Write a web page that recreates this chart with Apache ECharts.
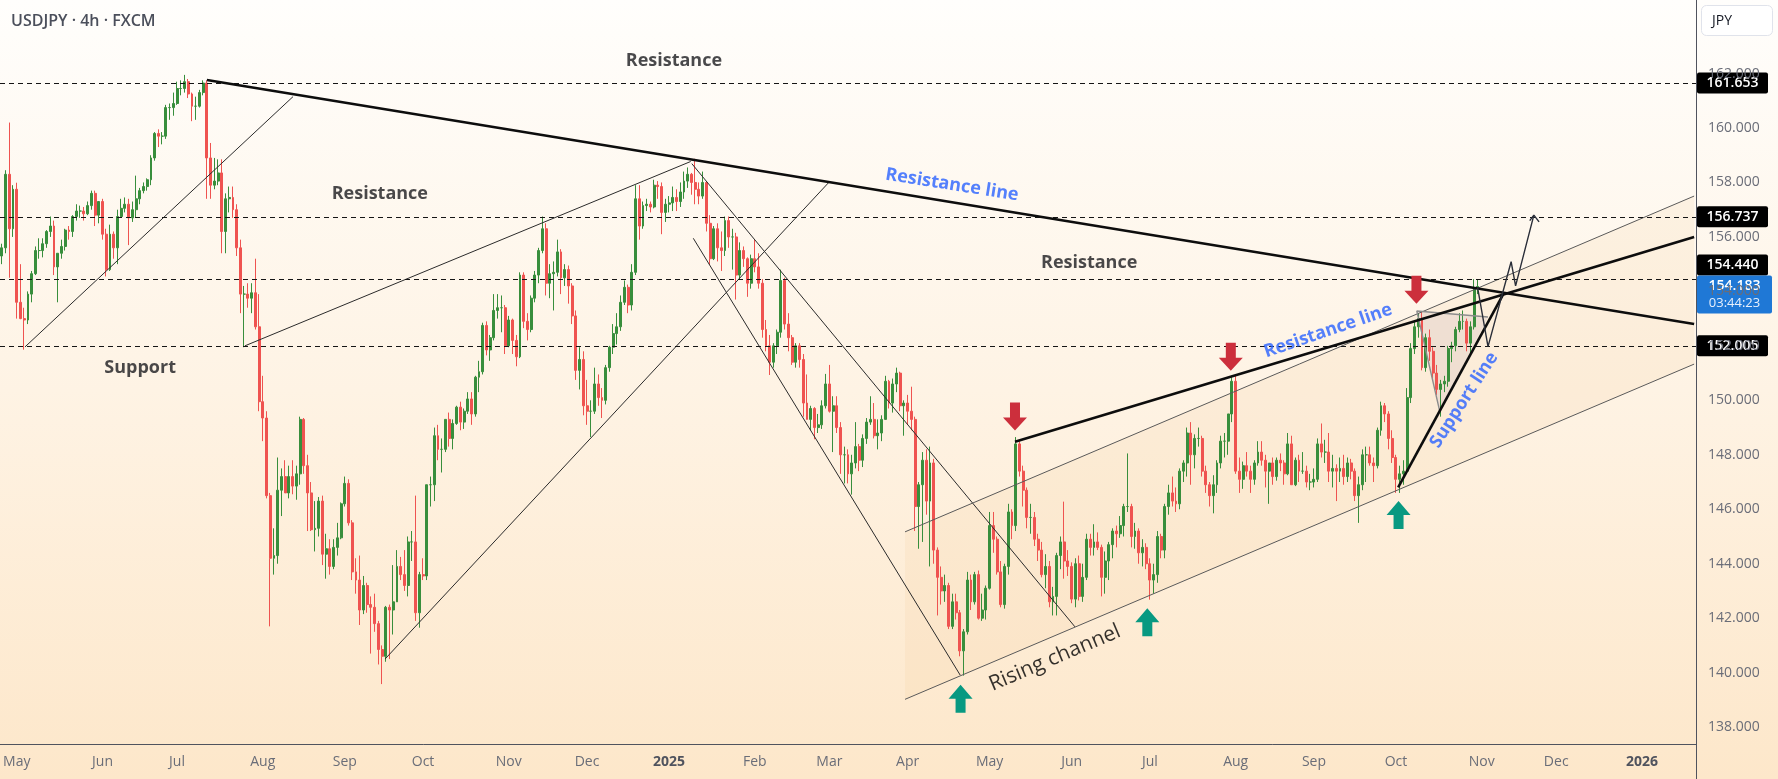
<!DOCTYPE html>
<html>
<head>
<meta charset="utf-8">
<title>USDJPY 4h</title>
<script src="https://cdn.jsdelivr.net/npm/echarts@6/dist/echarts.min.js"></script>
<style>
  html, body { margin: 0; padding: 0; }
  #chart { width: 1778px; height: 779px; }
</style>
</head>
<body>
<div id="chart"></div>
<script>
// daily candles, one row per weekday: [open, high, low, close]
var apr24 = [[155.3,155.75,155.0,155.6],[155.6,158.45,155.4,158.3],[158.3,160.2,154.5,156.3],[156.3,157.9,156.0,157.75]];
var may24 = [[157.75,157.99,153.0,153.6],[153.6,155.0,152.98,153.0],[153.0,153.4,151.86,152.95],[152.95,154.0,152.8,153.9],[153.9,154.75,153.6,154.65],
  [154.65,155.65,154.6,155.5],[155.5,155.95,155.2,155.5],[155.5,155.95,155.25,155.75],[155.75,156.25,155.6,156.2],[156.2,156.75,156.0,156.4],
  [156.4,156.6,154.6,154.9],[154.9,155.4,153.6,155.4],[155.4,155.9,155.2,155.65],[155.65,156.3,155.5,156.25],[156.25,156.4,155.9,156.2],
  [156.2,156.8,156.0,156.75],[156.75,157.2,156.6,156.95],[156.95,157.15,156.7,156.95],[156.95,157.1,156.6,156.85],[156.85,157.3,156.8,157.15],
  [157.15,157.7,157.0,157.6],[157.6,157.7,156.4,156.8],[156.8,157.3,156.5,157.3]];
var jun24 = [[157.3,157.4,155.9,156.1],[156.1,156.3,154.55,154.8],[154.8,156.45,154.75,156.1],[156.1,156.2,155.2,155.6],[155.6,157.0,155.0,156.75],
  [156.75,157.4,156.7,157.05],[157.05,157.45,156.9,157.2],[157.2,157.4,155.7,156.7],[156.7,157.3,156.55,157.0],[157.0,158.25,156.7,157.4],
  [157.4,157.8,157.2,157.7],[157.7,158.0,157.6,157.85],[157.85,158.15,157.7,158.1],[158.1,159.0,157.9,158.9],[158.9,159.85,158.8,159.8],
  [159.8,159.95,159.3,159.7],[159.7,159.85,159.4,159.7],[159.7,160.85,159.6,160.75],[160.75,160.9,160.3,160.75],[160.75,161.3,160.45,160.9]];
var jul24 = [[160.9,161.7,160.85,161.45],[161.45,161.75,161.2,161.45],[161.45,161.95,161.3,161.7],[161.7,161.8,161.1,161.25],[161.25,161.3,160.25,160.8],
  [160.8,161.15,160.3,160.8],[160.8,161.4,160.75,161.3],[161.3,161.75,161.2,161.65],[161.65,161.75,157.4,158.9],[158.9,159.45,157.4,157.9],
  [157.9,158.9,157.75,158.05],[158.05,158.85,157.9,158.35],[158.35,158.85,155.4,156.2],[156.2,157.6,155.4,157.4],[157.4,157.85,156.9,157.45],
  [157.45,157.85,156.7,157.0],[157.0,157.2,155.3,155.6],[155.6,155.9,153.2,153.9],[153.9,154.2,151.95,153.9],[153.9,154.3,153.4,153.75],
  [153.75,154.3,153.2,153.95],[153.95,155.2,152.6,152.7],[152.7,153.9,149.6,149.95]];
var aug24 = [[149.95,150.9,148.5,149.35],[149.35,149.6,146.4,146.5],[146.5,146.6,141.7,144.2],[144.2,145.3,143.6,144.3],[144.3,147.9,144.0,146.7],
  [146.7,147.5,145.75,147.2],[147.2,147.8,146.6,146.6],[146.6,147.6,146.4,147.2],[147.2,147.8,146.55,146.85],[146.85,147.6,146.35,147.3],
  [147.3,149.4,146.9,149.3],[149.3,149.35,147.3,147.6],[147.6,148.0,145.2,146.6],[146.6,147.0,145.2,145.25],[145.25,146.3,144.45,145.3],
  [145.3,146.45,145.0,146.3],[146.3,146.5,143.95,144.35],[144.35,145.1,143.45,144.55],[144.55,144.9,143.6,143.9],[143.9,144.9,143.8,144.6],
  [144.6,145.5,144.3,144.95],[144.95,146.25,144.9,146.2]];
var sep24 = [[146.2,147.2,146.1,146.95],[146.95,147.1,145.4,145.5],[145.5,145.6,143.4,143.7],[143.7,144.2,142.9,143.4],[143.4,144.3,141.75,142.3],
  [142.3,143.55,142.15,143.2],[143.2,143.3,142.2,142.5],[142.5,142.8,140.7,142.4],[142.4,142.9,141.5,141.8],[141.8,141.9,140.3,140.85],
  [140.85,141.0,139.58,140.6],[140.6,142.45,140.4,142.4],[142.4,142.5,140.5,142.3],[142.3,143.95,141.4,142.6],[142.6,144.5,142.6,143.9],
  [143.9,144.25,143.4,143.6],[143.6,144.5,143.0,143.2],[143.2,145.0,142.8,144.8],[144.8,145.2,144.1,144.8],[144.8,146.5,141.9,142.2],
  [142.2,143.7,141.65,143.6]];
var oct24 = [[143.6,144.2,143.4,143.55],[143.55,146.9,143.4,146.9],[146.9,147.2,146.1,146.9],[146.9,149.0,146.3,148.7],[148.7,149.1,147.8,148.2],
  [148.2,148.6,147.35,148.2],[148.2,149.3,148.1,149.3],[149.3,149.55,148.3,148.6],[148.6,149.3,148.2,149.15],[149.15,149.8,149.1,149.75],
  [149.75,149.95,148.9,149.2],[149.2,149.7,148.95,149.6],[149.6,150.3,149.5,150.05],[150.05,150.3,149.1,149.5],[149.5,150.9,149.4,150.85],
  [150.85,151.45,150.3,151.05],[151.05,152.85,150.95,152.75],[152.75,152.9,151.65,151.85],[151.85,152.4,151.45,152.3],[152.3,153.9,152.2,153.3],
  [153.3,153.9,153.0,153.4],[153.4,153.85,152.5,153.4],[153.4,153.5,151.7,152.0]];
var nov24 = [[152.0,153.1,151.95,152.95],[152.95,153.0,151.7,152.2],[152.2,152.4,151.25,151.6],[151.6,154.7,151.55,154.6],[154.6,154.7,152.65,152.9],
  [152.9,153.2,152.2,152.6],[152.6,153.85,152.5,153.75],[153.75,154.75,153.6,154.6],[154.6,155.6,154.3,155.5],[155.5,156.75,155.4,156.3],
  [156.3,156.5,153.85,154.3],[154.3,155.0,153.75,154.65],[154.65,155.1,153.3,154.7],[154.7,155.9,154.55,155.45],[155.45,155.55,153.9,154.5],
  [154.5,155.0,154.2,154.8],[154.8,154.95,153.55,154.2],[154.2,154.3,152.8,153.1],[153.1,153.3,150.75,151.1],[151.1,151.95,150.4,151.5],
  [151.5,151.8,149.45,149.8]];
var dec24 = [[149.8,150.75,149.1,149.6],[149.6,150.0,148.65,149.6],[149.6,151.2,149.5,150.6],[150.6,150.95,149.8,150.1],[150.1,150.45,149.35,150.0],
  [150.0,151.3,149.85,151.2],[151.2,152.0,151.05,151.95],[151.95,152.8,151.7,152.45],[152.45,153.2,152.05,152.7],[152.7,153.85,152.55,153.6],
  [153.6,154.4,153.5,154.15],[154.15,154.25,153.2,153.5],[153.5,155.0,153.3,154.7],[154.7,157.9,154.6,157.4],[157.4,157.9,155.9,156.4],
  [156.4,157.3,156.3,157.15],[157.15,157.4,156.95,157.2],[157.2,157.3,156.9,157.1],[157.1,158.1,157.05,157.9],[157.9,158.05,157.4,157.85],
  [157.85,158.0,156.1,156.9],[156.9,157.4,156.55,157.2]];
var jan25 = [[157.2,157.5,156.9,157.25],[157.25,157.85,156.95,157.45],[157.45,157.75,156.95,157.3],[157.3,158.0,157.1,157.65],[157.65,158.4,157.4,158.05],
  [158.05,158.55,157.8,158.3],[158.3,158.35,157.55,158.0],[158.0,158.87,157.2,157.75],[157.75,158.0,157.2,157.5],[157.5,158.4,157.4,158.0],
  [158.0,158.05,156.2,156.5],[156.5,156.8,154.97,155.2],[155.2,156.4,155.15,156.3],[156.3,156.5,155.1,155.6],[155.6,156.2,154.75,155.5],
  [155.5,156.75,155.3,156.6],[156.6,156.75,155.6,156.0],[156.0,156.3,154.8,156.0],[156.0,156.15,153.7,154.6],[154.6,155.8,154.45,155.5],
  [155.5,155.65,154.9,155.2],[155.2,155.25,153.8,154.3],[154.3,155.35,154.1,155.2]];
var feb25 = [[155.2,155.9,154.7,154.9],[154.9,155.4,154.1,154.3],[154.3,154.45,152.3,152.6],[152.6,152.95,151.8,152.0],[152.0,152.4,150.93,151.4],
  [151.4,152.1,151.2,152.0],[152.0,152.6,151.7,152.5],[152.5,154.8,152.3,154.4],[154.4,154.5,152.6,152.8],[152.8,153.2,151.8,152.3],
  [152.3,152.4,151.3,151.4],[151.4,152.1,151.2,152.0],[152.0,152.1,151.2,151.5],[151.5,151.7,149.4,149.9],[149.9,150.95,149.3,149.3],
  [149.3,149.8,148.9,149.7],[149.7,149.75,148.57,149.0],[149.0,149.5,148.8,149.1],[149.1,150.0,148.95,149.8],[149.8,150.97,149.7,150.6]];
var mar25 = [[150.6,151.3,149.55,149.6],[149.6,150.15,148.1,149.8],[149.8,150.15,148.8,149.0],[149.0,149.2,147.3,148.0],[148.0,148.3,146.95,148.0],
  [148.0,148.2,146.95,147.3],[147.3,148.0,146.54,147.7],[147.7,149.2,147.5,148.3],[148.3,148.4,147.4,147.8],[147.8,148.75,147.55,148.6],
  [148.6,149.35,148.4,149.2],[149.2,150.15,149.1,149.3],[149.3,149.9,148.6,148.7],[148.7,149.3,148.2,148.8],[148.8,149.45,148.5,149.3],
  [149.3,150.9,149.3,150.7],[150.7,150.75,149.7,149.9],[149.9,150.8,149.55,150.6],[150.6,151.2,150.3,151.0],[151.0,151.05,149.6,149.8],
  [149.8,150.0,148.7,149.9]];
var apr25 = [[149.9,150.2,149.1,149.6],[149.6,150.5,148.9,149.3],[149.3,149.4,145.2,146.1],[146.1,147.0,144.55,146.9],[146.9,148.1,144.8,147.8],
  [147.8,148.2,145.8,146.3],[146.3,148.3,143.9,147.7],[147.7,147.85,144.0,144.5],[144.5,144.6,142.1,143.5],[143.5,143.9,142.5,143.0],
  [143.0,143.6,142.6,143.2],[143.2,143.3,141.6,141.7],[141.7,142.9,141.6,142.6],[142.6,142.9,141.95,142.2],[142.2,142.3,140.6,140.8],
  [140.8,141.6,139.89,141.5],[141.5,143.7,141.4,143.4],[143.4,143.6,142.3,142.6],[142.6,143.7,142.5,143.6],[143.6,143.75,141.95,142.0],
  [142.0,142.9,141.9,142.3],[142.3,143.2,141.95,143.1]];
var may25 = [[143.1,145.9,143.05,145.4],[145.4,145.9,144.4,144.9],[144.9,145.0,143.6,143.7],[143.7,144.1,142.4,142.5],[142.5,144.0,142.35,143.9],
  [143.9,146.2,143.6,145.9],[145.9,146.0,144.9,145.4],[145.4,148.65,145.2,148.4],[148.4,148.5,147.2,147.4],[147.4,147.6,146.1,146.7],
  [146.7,146.8,145.3,145.7],[145.7,146.2,145.1,145.7],[145.7,145.9,144.65,144.9],[144.9,145.1,144.1,144.5],[144.5,144.8,143.5,143.6],
  [143.6,144.35,143.1,143.9],[143.9,144.1,142.4,142.6],[142.6,143.15,142.1,142.8],[142.8,144.4,142.1,144.3],[144.3,145.0,143.8,144.8],
  [144.8,146.28,143.45,144.1],[144.1,144.5,143.55,143.9]];
var jun25 = [[143.9,144.05,142.55,142.7],[142.7,144.2,142.4,144.0],[144.0,144.3,142.65,142.8],[142.8,144.0,142.6,143.5],[143.5,145.1,143.4,144.9],
  [144.9,145.1,144.3,144.6],[144.6,145.45,144.3,144.8],[144.8,145.15,144.5,144.6],[144.6,144.7,142.8,143.5],[143.5,144.45,142.9,144.1],
  [144.1,144.8,143.4,144.7],[144.7,145.3,144.2,145.2],[145.2,145.4,144.6,145.1],[145.1,145.75,144.95,145.4],[145.4,146.2,145.0,146.1],
  [146.1,148.05,145.9,146.1],[146.1,146.2,144.6,145.0],[145.0,145.5,144.55,145.2],[145.2,145.3,144.0,144.4],[144.4,144.9,143.9,144.6],
  [144.6,144.75,143.8,144.0]];
var jul25 = [[144.0,144.2,142.68,143.4],[143.4,144.0,142.9,143.6],[143.6,145.2,143.3,145.0],[145.0,145.1,144.2,144.5],[144.5,146.2,144.2,146.1],
  [146.1,146.9,145.8,146.6],[146.6,147.2,146.1,146.3],[146.3,146.8,145.9,146.2],[146.2,147.5,146.0,147.4],[147.4,147.8,147.0,147.7],
  [147.7,149.0,147.2,148.8],[148.8,149.2,146.9,148.0],[148.0,148.75,147.5,148.6],[148.6,149.0,148.3,148.6],[148.6,148.7,147.2,147.4],
  [147.4,147.6,146.6,146.9],[146.9,147.0,146.1,146.5],[146.5,147.25,145.85,146.9],[146.9,147.8,146.6,147.7],[147.7,148.7,147.5,148.5],
  [148.5,148.8,147.9,148.5],[148.5,149.5,148.0,149.5],[149.5,150.9,149.2,150.7]];
var aug25 = [[150.7,150.9,147.3,147.4],[147.4,147.9,146.6,147.1],[147.1,147.75,146.75,147.6],[147.6,148.1,147.2,147.4],[147.4,147.6,146.6,147.1],
  [147.1,147.8,146.9,147.7],[147.7,148.5,147.6,148.1],[148.1,148.5,147.6,147.8],[147.8,148.0,146.8,147.4],[147.4,147.7,146.2,147.7],
  [147.7,147.9,146.9,147.2],[147.2,147.9,147.05,147.8],[147.8,148.05,147.4,147.7],[147.7,147.8,146.9,147.3],[147.3,148.8,147.25,148.4],
  [148.4,148.7,146.9,146.9],[146.9,147.9,146.85,147.8],[147.8,148.0,147.0,147.4],[147.4,148.1,147.3,147.4],[147.4,147.6,146.8,147.0],
  [147.0,147.3,146.7,147.0]];
var sep25 = [[147.0,147.5,146.8,147.1],[147.1,148.6,147.0,148.4],[148.4,149.15,147.9,148.1],[148.1,148.55,147.7,148.1],[148.1,148.8,147.0,147.4],
  [147.4,148.0,146.8,147.5],[147.5,147.65,146.3,147.4],[147.4,147.9,147.0,147.5],[147.5,148.0,146.9,147.2],[147.2,147.9,147.0,147.7],
  [147.7,147.85,147.1,147.4],[147.4,147.5,146.3,146.5],[146.5,147.2,145.5,146.9],[146.9,148.2,146.7,148.0],[148.0,148.3,147.0,148.0],
  [148.0,148.3,147.6,147.7],[147.7,147.9,147.0,147.6],[147.6,149.0,147.5,148.9],[148.9,149.95,148.7,149.8],[149.8,149.9,149.2,149.5],
  [149.5,149.6,148.2,148.6],[148.6,148.9,147.7,147.9]];
var oct25 = [[147.9,148.0,146.6,147.1],[147.1,147.6,146.6,147.3],[147.3,147.8,146.9,147.4],[147.4,150.45,147.4,150.1],[150.1,152.1,149.9,151.9],
  [151.9,152.9,151.7,152.7],[152.7,153.2,152.3,153.0],[153.0,153.27,151.1,151.2],[151.2,152.45,151.05,152.3],[152.3,152.6,151.45,151.8],
  [151.8,151.95,150.8,151.0],[151.0,151.3,150.2,150.4],[150.4,150.75,149.4,150.6],[150.6,150.9,150.3,150.7],[150.7,152.0,150.5,151.9],
  [151.9,152.15,151.4,152.0],[152.0,152.7,151.8,152.6],[152.6,153.2,152.5,152.9],[152.9,153.3,152.6,152.9],[152.9,153.0,151.8,152.1],
  [152.1,152.9,151.7,152.7],[152.7,154.45,152.6,154.1],[154.1,154.45,153.9,154.18]];

// horizontal levels and last price
var levels = [161.653, 156.737, 154.440, 152.005];
var lastPrice = 154.183;
var countdown = '03:44:23';
var priceTicks = [138, 140, 142, 144, 146, 148, 150, 152, 154, 156, 158, 160, 162];
var monthNames = ['Jan', 'Feb', 'Mar', 'Apr', 'May', 'Jun', 'Jul', 'Aug', 'Sep', 'Oct', 'Nov', 'Dec'];

// drawn lines: [bar index on the time scale, price]
var topResistance = [[55.0, 161.76], [454, 152.80]];
var riseA = [[6.2, 151.96], [78.1, 161.15]];
var riseB = [[65.2, 152.0], [184.8, 158.77]];
var riseC = [[102.8, 140.5], [221.7, 157.98]];
var fallUpper = [[185.1, 158.69], [287.9, 141.68]];
var fallLower = [[185.5, 155.95], [257.1, 139.91]];
var channelLow = [[242.3, 139.02], [454, 151.33]];
var channelHigh = [[242.3, 145.17], [454, 157.50]];
var risingResistance = [[271.8, 148.48], [454, 156.0]];
var supportLine = [[374.6, 146.80], [402.8, 153.90]];
var projection = [[395.9, 154.15], [398.7, 151.97], [404.9, 155.09], [406.1, 154.20], [411.0, 156.80]];
var projectionHead = [[409.9, 156.60], [411.0, 156.80], [412.4, 156.55]];
var triangle = [[379.6, 153.28], [398.7, 153.06], [385.8, 149.57]];

var sellMarks = [[271.8, 149.41], [329.7, 151.60], [379.5, 154.06]];
var buyMarks = [[257.2, 139.04], [307.3, 141.85], [374.7, 145.79]];

var noteText = ['Resistance', 'Resistance', 'Resistance', 'Support', 'Resistance line', 'Resistance line', 'Support line', 'Rising channel'];
var noteX = [180.3, 101.4, 291.7, 37.1, 254.9, 355.8, 392.3, 282.5];
var noteY = [162.46, 157.58, 155.04, 151.19, 157.91, 152.55, 150.01, 140.54];
var noteAngle = [0, 0, 0, 0, -9, 19, 57, 23];
var noteKind = ['level', 'level', 'level', 'level', 'trend', 'trend', 'trend', 'channel'];

// weekday time scale from the first bar to the right edge
var days = [];
var d = new Date(Date.UTC(2024, 3, 25));
var lastDay = new Date(Date.UTC(2026, 0, 21));
while (d <= lastDay) {
  var wd = d.getUTCDay();
  if (wd !== 0 && wd !== 6) days.push(d.toISOString().slice(0, 10));
  d = new Date(d.getTime() + 86400000);
}

var rows = [].concat(apr24, may24, jun24, jul24, aug24, sep24, oct24, nov24, dec24,
  jan25, feb25, mar25, apr25, may25, jun25, jul25, aug25, sep25, oct25);
var candles = rows.map(function (r) { return [r[0], r[3], r[2], r[1]]; });

var font = "'Open Sans', 'Noto Sans', sans-serif";
var upColor = '#388e3c';
var downColor = '#ef5350';
var blue = '#2962ff';

function seg(pts, width, color, z) {
  return {
    type: 'line', xAxisIndex: 1, data: pts, symbol: 'none', silent: true,
    lineStyle: { width: width, color: color }, z: z || 4, animation: false
  };
}

function noteStyle(kind) {
  if (kind === 'level') return { fontSize: 18, fontWeight: 'bold', color: '#1c1c1f' };
  if (kind === 'trend') return { fontSize: 18, fontWeight: 'bold', color: blue };
  return { fontSize: 21, fontWeight: 'normal', color: '#000000' };
}

var notes = noteText.map(function (t, i) {
  var s = noteStyle(noteKind[i]);
  return {
    value: [noteX[i], noteY[i]],
    label: {
      show: true, position: 'inside', formatter: t, rotate: noteAngle[i],
      fontSize: s.fontSize, fontWeight: s.fontWeight, color: s.color, fontFamily: font
    }
  };
});

var dom = document.getElementById('chart');
var myChart = echarts.init(dom, null, { renderer: 'canvas', useDirtyRect: false });

var option = {
  animation: false,
  backgroundColor: new echarts.graphic.LinearGradient(0, 0, 0, 1, [
    { offset: 0, color: '#fffefc' },
    { offset: 0.5, color: '#fef3e4' },
    { offset: 1, color: '#fde7ca' }
  ]),
  textStyle: { fontFamily: font },
  grid: { left: 0, right: 82, top: 0, bottom: 35 },
  xAxis: [{
    type: 'category',
    data: days,
    boundaryGap: true,
    axisLine: { onZero: false, lineStyle: { color: '#50535e', width: 1 } },
    axisTick: { show: false },
    splitLine: { show: false },
    axisLabel: {
      margin: 11,
      color: '#6a6d78',
      fontSize: 14,
      interval: function (i, v) {
        return i > 0 && v.slice(5, 7) !== days[i - 1].slice(5, 7);
      },
      formatter: function (v) {
        var m = +v.slice(5, 7);
        return m === 1 ? '{y|' + v.slice(0, 4) + '}' : monthNames[m - 1];
      },
      rich: { y: { fontWeight: 'bold', color: '#50535e', fontSize: 14, fontFamily: font } }
    }
  }, {
    type: 'value',
    show: false,
    min: -0.5,
    max: days.length - 0.5
  }],
  yAxis: {
    type: 'value',
    position: 'right',
    min: 137.38,
    max: 164.70,
    scale: true,
    axisLine: { show: true, onZero: false, lineStyle: { color: '#50535e', width: 1 } },
    axisTick: { show: false },
    splitLine: { show: false },
    axisLabel: {
      customValues: priceTicks,
      margin: 12,
      color: '#6a6d78',
      fontSize: 14,
      formatter: function (v) { return v.toFixed(3); }
    }
  },
  series: [
    {
      type: 'custom',
      xAxisIndex: 1,
      silent: true,
      clip: true,
      z: 1,
      data: [0],
      renderItem: function (params, api) {
        var pts = channelLow.concat(channelHigh.slice().reverse()).map(function (p) { return api.coord(p); });
        return { type: 'polygon', shape: { points: pts }, style: { fill: 'rgba(244, 200, 140, 0.14)' } };
      }
    },
    {
      type: 'custom',
      xAxisIndex: 1,
      silent: true,
      z: 1,
      data: [0],
      renderItem: function (params, api) {
        var pts = triangle.map(function (p) { return api.coord(p); });
        return { type: 'polygon', shape: { points: pts }, style: { fill: 'rgba(205, 185, 190, 0.28)' } };
      }
    },
    {
      type: 'candlestick',
      xAxisIndex: 0,
      data: candles,
      barWidth: 2.4,
      z: 3,
      itemStyle: {
        color: upColor, color0: downColor,
        borderColor: upColor, borderColor0: downColor, borderWidth: 1
      },
      markLine: {
        silent: true,
        symbol: ['none', 'none'],
        label: { show: false },
        lineStyle: { type: [5, 4], color: '#151515', width: 1 },
        data: levels.map(function (v) { return { yAxis: v }; })
      }
    },
    seg(topResistance, 2.6, '#0d0d0d', 5),
    seg(risingResistance, 2.6, '#0d0d0d', 5),
    seg(supportLine, 2.6, '#0d0d0d', 5),
    seg(riseA, 1, '#2b2b2b'),
    seg(riseB, 1, '#2b2b2b'),
    seg(riseC, 1, '#2b2b2b'),
    seg(fallUpper, 1, '#2b2b2b'),
    seg(fallLower, 1, '#2b2b2b'),
    seg(channelLow, 1, '#5a5a5a'),
    seg(channelHigh, 1, '#5a5a5a'),
    seg([triangle[1], triangle[0], triangle[2]], 1.4, '#8c8c8c'),
    seg(projection, 1.4, '#2a2e39', 6),
    seg(projectionHead, 1.4, '#2a2e39', 6),
    {
      type: 'scatter', xAxisIndex: 1, silent: true, z: 7,
      data: sellMarks,
      symbol: 'path://M7,0 L17,0 L17,15 L24,15 L12,28 L0,15 L7,15 Z',
      symbolSize: [24, 28],
      itemStyle: { color: '#cc2f3c', opacity: 1 }
    },
    {
      type: 'scatter', xAxisIndex: 1, silent: true, z: 7,
      data: buyMarks,
      symbol: 'path://M12,0 L24,14 L17,14 L17,28 L7,28 L7,14 L0,14 Z',
      symbolSize: [24, 28],
      itemStyle: { color: '#089981', opacity: 1 }
    },
    {
      type: 'scatter', xAxisIndex: 1, silent: true, z: 8,
      symbolSize: 0,
      data: notes
    }
  ]
};

myChart.setOption(option);

// price tags on the right scale and the chart header
var yOf = function (v) { return myChart.convertToPixel({ yAxisIndex: 0 }, v); };
var lastY = yOf(lastPrice);
var blueTop = lastY - 11;
var tags = levels.map(function (v) {
  var cy = yOf(v);
  if (Math.abs(cy - lastY) < 20) cy = blueTop - 10.5;
  return {
    type: 'group', z: 100,
    children: [
      { type: 'rect', shape: { x: 1697, y: cy - 10.5, width: 71, height: 21, r: 2 }, style: { fill: '#000000' } },
      { type: 'text', style: { x: 1732.5, y: cy, text: v.toFixed(3), fill: '#ffffff', font: '600 14px ' + font, textAlign: 'center', textVerticalAlign: 'middle' } }
    ]
  };
});
tags.push({
  type: 'group', z: 100,
  children: [
    { type: 'rect', shape: { x: 1697, y: blueTop, width: 75, height: 38, r: 2 }, style: { fill: '#1f78d6' } },
    { type: 'text', style: { x: 1734.5, y: blueTop + 11, text: lastPrice.toFixed(3), fill: '#ffffff', font: '600 14px ' + font, textAlign: 'center', textVerticalAlign: 'middle' } },
    { type: 'text', style: { x: 1734.5, y: blueTop + 28, text: countdown, fill: '#e8f0fc', font: '13px ' + font, textAlign: 'center', textVerticalAlign: 'middle' } }
  ]
});

myChart.setOption({
  graphic: tags.concat([
    { type: 'line', z: 100, shape: { x1: 1696.5, y1: 744, x2: 1696.5, y2: 779 }, style: { stroke: '#50535e', lineWidth: 1 } },
    { type: 'rect', z: 100, shape: { x: 1701.5, y: 5.5, width: 71, height: 30, r: 5 }, style: { fill: '#ffffff', stroke: '#e0e3eb', lineWidth: 1 } },
    { type: 'text', z: 101, style: { x: 1712, y: 21, text: 'JPY', fill: '#131722', font: '14px ' + font, textVerticalAlign: 'middle' } },
    { type: 'text', z: 101, style: { x: 11, y: 21, text: 'USDJPY \u00b7 4h \u00b7 FXCM', fill: '#4b4f5b', font: '600 16px ' + font, textVerticalAlign: 'middle' } }
  ])
});

window.addEventListener('resize', myChart.resize);
</script>
</body>
</html>
